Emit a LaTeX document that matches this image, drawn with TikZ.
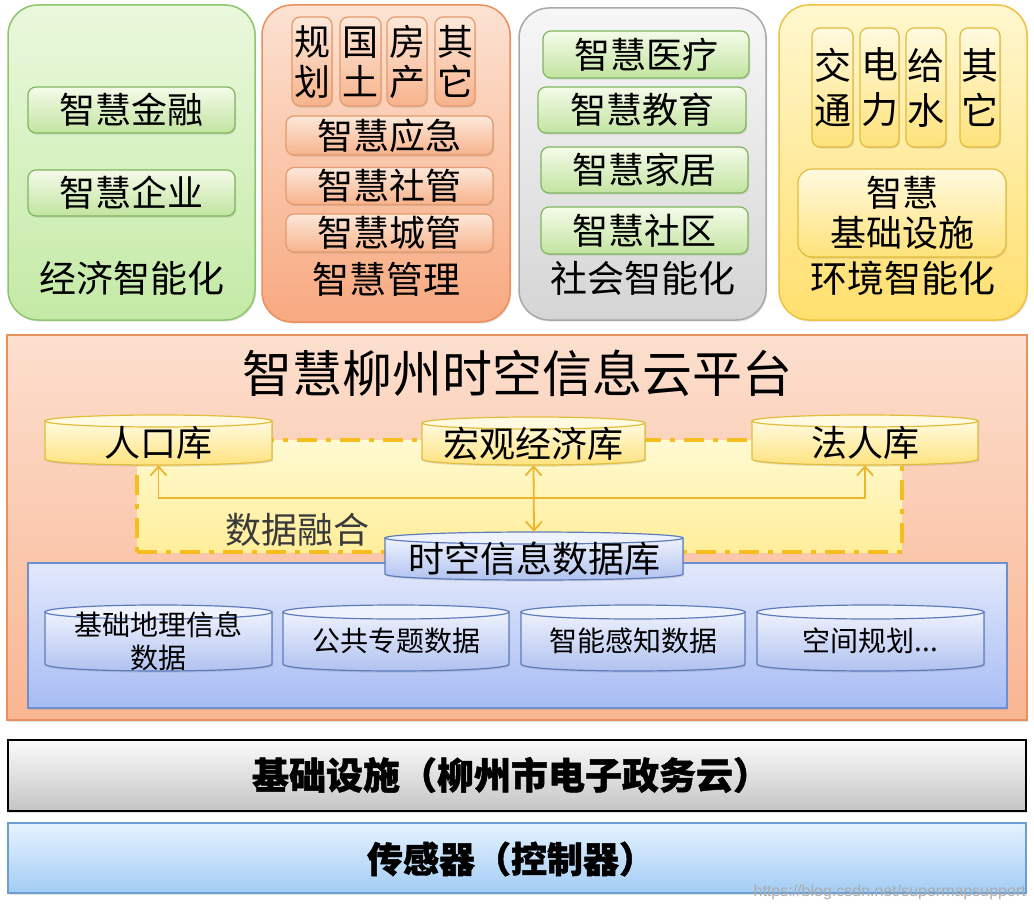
\documentclass[tikz,border=0pt]{standalone}
\usepackage{fontspec}
\setmainfont{Noto Sans CJK SC}
\newfontfamily\cjkheavy{Noto Sans CJK SC}[BoldFeatures={FakeBold=1.2}]
\newfontfamily\wmfont{Liberation Sans}
\usetikzlibrary{shadows,arrows.meta}
\definecolor{gPanT}{HTML}{EAF8DC}\definecolor{gPanB}{HTML}{C4EAA6}\definecolor{gPanD}{HTML}{8CC66E}
\definecolor{gBoxT}{HTML}{F4FBE9}\definecolor{gBoxB}{HTML}{C2E4A0}\definecolor{gBoxD}{HTML}{7FB65E}
\definecolor{oPanT}{HTML}{FCE2D2}\definecolor{oPanB}{HTML}{F8A980}\definecolor{oPanD}{HTML}{EC8F5E}
\definecolor{oBoxT}{HTML}{FDE8DA}\definecolor{oBoxB}{HTML}{F7B38C}\definecolor{oBoxD}{HTML}{E39A6C}
\definecolor{sPanT}{HTML}{F7F7F7}\definecolor{sPanB}{HTML}{D5D5D5}\definecolor{sPanD}{HTML}{A8A8A8}
\definecolor{yPanT}{HTML}{FFF7CF}\definecolor{yPanB}{HTML}{FFDF6E}\definecolor{yPanD}{HTML}{EEC23E}
\definecolor{yBoxT}{HTML}{FFFAE0}\definecolor{yBoxB}{HTML}{FFE27A}\definecolor{yBoxD}{HTML}{E2BC3C}
\definecolor{mPanT}{HTML}{FCDFCE}\definecolor{mPanB}{HTML}{F9B592}\definecolor{mPanD}{HTML}{E8915E}
\definecolor{dRegT}{HTML}{FFFAD2}\definecolor{dRegB}{HTML}{FFEE9A}\definecolor{dRegD}{HTML}{F5BE1E}
\definecolor{bPanT}{HTML}{E3E9FC}\definecolor{bPanB}{HTML}{A7BCF3}\definecolor{bPanD}{HTML}{6E8ED0}
\definecolor{bCylT}{HTML}{EEF2FD}\definecolor{bCylB}{HTML}{AEC0EF}\definecolor{bCylD}{HTML}{5E7CBC}
\definecolor{arrC}{HTML}{EDB42E}
\definecolor{gBarT}{HTML}{FBFBFB}\definecolor{gBarB}{HTML}{C4C4C4}
\definecolor{lBarT}{HTML}{E6F3FE}\definecolor{lBarB}{HTML}{A2CCF5}\definecolor{lBarD}{HTML}{6C9FD0}
\definecolor{txtD}{HTML}{3A3A3A}
\tikzset{
  shad/.style={drop shadow={shadow xshift=1.2pt,shadow yshift=-1.6pt,opacity=0.22}},
  panel/.style={rounded corners=30pt, line width=1.5pt, minimum width=247, minimum height=315, shad},
  gpanel/.style={panel, draw=gPanD, top color=gPanT, bottom color=gPanB},
  opanel/.style={panel, draw=oPanD, top color=oPanT, bottom color=oPanB},
  spanel/.style={panel, draw=sPanD, top color=sPanT, bottom color=sPanB},
  ypanel/.style={panel, draw=yPanD, top color=yPanT, bottom color=yPanB},
  boxbase/.style={rounded corners=8pt, line width=1.2pt, inner sep=0pt, shad, font=\fontsize{36}{40}\selectfont, align=center},
  gbox/.style={boxbase, draw=gBoxD, top color=gBoxT, bottom color=gBoxB, minimum width=207, minimum height=46},
  obox/.style={boxbase, draw=oBoxD, top color=oBoxT, bottom color=oBoxB},
  ybox/.style={boxbase, draw=yBoxD, top color=yBoxT, bottom color=yBoxB},
  plabel/.style={font=\fontsize{37}{40}\selectfont, inner sep=0pt},
  cyltext/.style={inner sep=0pt, align=center},
  ycyl body/.style={draw=yBoxD, line width=1.2pt, top color=yBoxT, bottom color=yBoxB, shad},
  ycyl top/.style={draw=yBoxD, line width=1.2pt, fill=yBoxT},
  ycyl text/.style={cyltext, font=\fontsize{36}{40}\selectfont},
  bcyl body/.style={draw=bCylD, line width=1.2pt, top color=bCylT, bottom color=bCylB, shad},
  bcyl top/.style={draw=bCylD, line width=1.2pt, fill=bCylT},
  bcyl text/.style={cyltext, font=\fontsize{36}{40}\selectfont},
  bcyls body/.style={bcyl body},
  bcyls top/.style={bcyl top},
  bcyls text/.style={cyltext, font=\fontsize{28}{33}\selectfont},
  conn/.style={draw=arrC, line width=1.8pt},
  barb/.tip={Straight Barb[length=9pt,width=16pt]},
  bartext/.style={font=\cjkheavy\bfseries\fontsize{37}{40}\selectfont, inner sep=0pt},
}
% #1 name, #2 cx, #3 cy, #4 width, #5 height, #6 ry, #7 kind, #8 text
\newcommand\dbcyl[8]{%
  \path[#7 body] ({#2-#4/2},{#3-#5/2+#6}) -- ({#2-#4/2},{#3+#5/2-#6})
     .. controls ({#2-#4/2},{#3+#5/2+0.333*#6}) and ({#2+#4/2},{#3+#5/2+0.333*#6}) .. ({#2+#4/2},{#3+#5/2-#6})
     -- ({#2+#4/2},{#3-#5/2+#6}) -- cycle;
  \path[#7 top] (#2,{#3-#5/2+#6}) ellipse[x radius={#4/2}, y radius={#6}];
  \node[#7 text, minimum width=#4, minimum height=#5] (#1) at (#2,#3) {};
  \node[#7 text] (#1-t) at ([yshift=-3pt]#1.center) {#8};
}
\begin{document}
\begin{tikzpicture}[x=1pt,y=-1pt]
\useasboundingbox (0,0) rectangle (1034,912);
\fill[white] (0,0) rectangle (1034,912);

% ---------- top panels ----------
\node[gpanel] (econ) at (131.5,162.5) {};
\node[opanel, minimum width=248, minimum height=317] (mgmt) at (386,163.5) {};
\node[spanel, minimum height=312] (soc) at (642.5,164) {};
\node[ypanel, minimum width=248] (env) at (903,162.5) {};

\node[gbox] (jr) at (131.5,110) {智慧金融};
\node[gbox] (qy) at (131.5,193) {智慧企业};
\node[plabel] (econL) at (132,278) {经济智能化};

\node[obox, minimum width=40, minimum height=89] (gh) at (312,61.5) {规\\划};
\node[obox, minimum width=41, minimum height=89] (gt) at (360.5,61.5) {国\\土};
\node[obox, minimum width=40, minimum height=89] (fc) at (407,61.5) {房\\产};
\node[obox, minimum width=40, minimum height=89] (qt1) at (455,61.5) {其\\它};
\node[obox, minimum width=207, minimum height=39] (yj) at (389.5,135.5) {智慧应急};
\node[obox, minimum width=207, minimum height=37] (sg) at (389.5,186) {智慧社管};
\node[obox, minimum width=207, minimum height=38] (cg) at (389.5,233) {智慧城管};
\node[plabel] (mgmtL) at (386,279) {智慧管理};

\node[gbox, minimum width=206, minimum height=47] (yl) at (646,54.5) {智慧医疗};
\node[gbox, minimum width=208] (jy) at (642,110) {智慧教育};
\node[gbox] (jj) at (644.5,170) {智慧家居};
\node[gbox, minimum height=47] (sq) at (644.5,230.5) {智慧社区};
\node[plabel] (socL) at (643,278) {社会智能化};

\node[ybox, minimum width=41, minimum height=119, font=\fontsize{37}{45}\selectfont] (jt) at (832.5,87.5) {交\\通};
\node[ybox, minimum width=39, minimum height=119, font=\fontsize{37}{45}\selectfont] (dl) at (879.5,87.5) {电\\力};
\node[ybox, minimum width=40, minimum height=119, font=\fontsize{37}{45}\selectfont] (gs) at (926,87.5) {给\\水};
\node[ybox, minimum width=40, minimum height=119, font=\fontsize{37}{45}\selectfont] (qt2) at (980,87.5) {其\\它};
\node[ybox, minimum width=208, minimum height=88, rounded corners=14pt] (jcss) at (902,213) {智慧\\基础设施};
\node[plabel] (envL) at (903,278) {环境智能化};

% ---------- middle platform ----------
\node[draw=mPanD, line width=1.5pt, top color=mPanT, bottom color=mPanB, minimum width=1020, minimum height=385, shad] (plat) at (517,527.5) {};
\node[font=\fontsize{50}{56}\selectfont, inner sep=0pt] (title) at (517,373) {智慧柳州时空信息云平台};

\node[draw=dRegD, line width=4pt, dash pattern=on 20pt off 9pt on 5pt off 9pt, top color=dRegT, bottom color=dRegB, minimum width=765, minimum height=112] (fuse) at (519.5,496) {};
\node[draw=bPanD, line width=1.5pt, top color=bPanT, bottom color=bPanB, minimum width=979, minimum height=145, shad] (base) at (517.5,635.5) {};

\node[font=\fontsize{36}{40}\selectfont, text=txtD, inner sep=0pt] (fuseL) at (297,530) {数据融合};

\dbcyl{rk}{158.5}{440}{227}{50}{6}{ycyl}{人口库}
\dbcyl{hg}{533.5}{441}{223}{48}{6}{ycyl}{宏观经济库}
\dbcyl{fr}{865}{440}{226}{50}{6}{ycyl}{法人库}
\dbcyl{sk}{534}{556}{298}{48}{6}{bcyl}{时空信息数据库}

\dbcyl{jcdl}{158.5}{638}{227}{66}{7}{bcyls}{基础地理信息\\数据}
\dbcyl{ggzt}{396}{638}{226}{66}{7}{bcyls}{公共专题数据}
\dbcyl{znzg}{633}{638}{224}{66}{7}{bcyls}{智能感知数据}
\dbcyl{kjgh}{870.5}{638}{227}{66}{7}{bcyls}{空间规划...}

\coordinate (hbar) at (0,498);
\draw[conn, barb-barb] (rk.south) -- (rk.south |- hbar) -| (fr.south);
\draw[conn, barb-barb] (hg.south) -- (sk.north);

% ---------- bottom bars ----------
\node[draw=black, line width=2.5pt, top color=gBarT, bottom color=gBarB, minimum width=1018, minimum height=71, shad] (infra) at (517,775.5) {};
\node[bartext] (infraL) at (511,775) {基础设施（柳州市电子政务云）};
\node[draw=lBarD, line width=1.5pt, top color=lBarT, bottom color=lBarB, minimum width=1018, minimum height=70, shad] (sens) at (517,858) {};
\node[bartext, font=\cjkheavy\bfseries\fontsize{36}{40}\selectfont] (sensL) at (511,859) {传感器（控制器）};

\node[font=\wmfont\fontsize{16}{18}\selectfont, text=gray!65, anchor=east, inner sep=0pt] (wm) at (1026,892) {https://blog.csdn.net/supermapsupport};
\end{tikzpicture}
\end{document}
